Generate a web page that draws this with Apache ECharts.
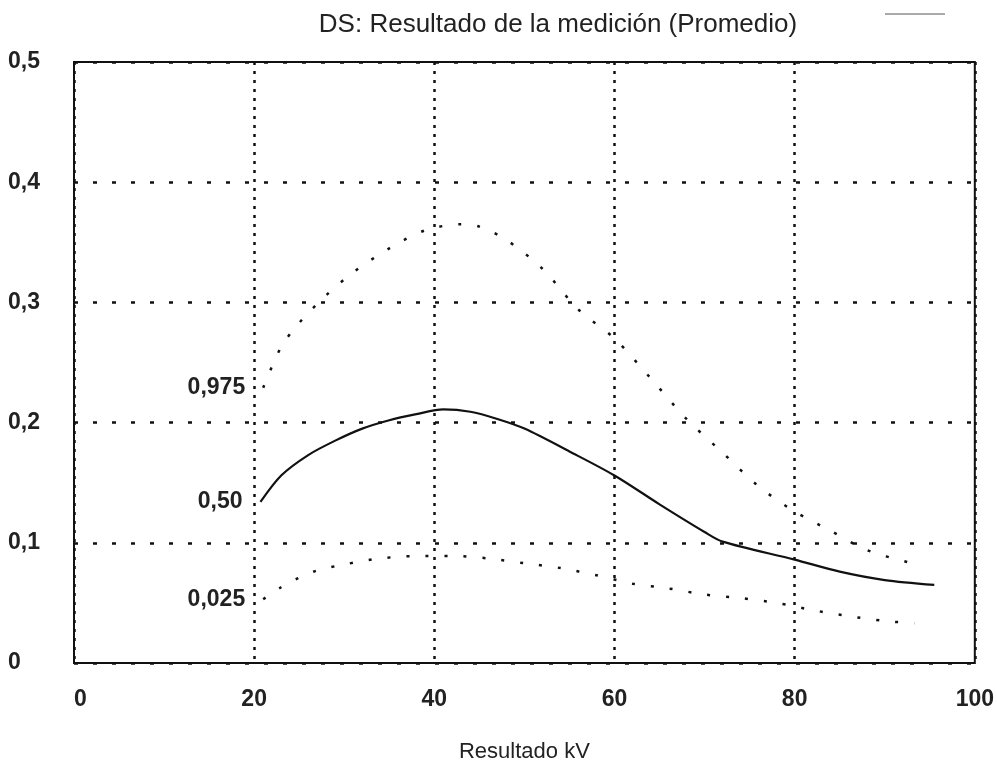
<!DOCTYPE html>
<html>
<head>
<meta charset="utf-8">
<script src="https://cdn.jsdelivr.net/npm/echarts@6/dist/echarts.min.js"></script>
<style>html,body{margin:0;padding:0;background:#fff}#c{width:997px;height:768px}</style>
</head>
<body>
<div id="c"></div>
<script>
var titleText = 'DS: Resultado de la medición (Promedio)';
var xAxisName = 'Resultado kV';
var yTickLabels = ['0', '0,1', '0,2', '0,3', '0,4', '0,5'];
var seriesNames = ['0,975', '0,50', '0,025'];

var upperX = [21, 23, 25, 28, 31, 35, 39, 43, 45, 48, 52, 56, 60, 64, 68, 72, 76, 80, 84, 88, 93];
var upperY = [0.229, 0.263, 0.283, 0.306, 0.325, 0.345, 0.360, 0.365, 0.363, 0.352, 0.328, 0.294, 0.270, 0.237, 0.203, 0.175, 0.147, 0.126, 0.110, 0.094, 0.083];

var medianX = [20.7, 23, 26, 29, 32, 35, 38, 41, 44, 47, 50, 55, 60, 65, 70, 72, 80, 85, 90, 95.5];
var medianY = [0.134, 0.156, 0.173, 0.185, 0.195, 0.202, 0.207, 0.211, 0.209, 0.203, 0.195, 0.176, 0.156, 0.132, 0.109, 0.101, 0.086, 0.076, 0.069, 0.065];

var lowerX = [21, 23, 25, 27, 30, 34, 38, 42, 46, 50, 54, 58, 62, 66, 70, 74, 78, 82, 86, 90, 93.3];
var lowerY = [0.053, 0.063, 0.071, 0.077, 0.082, 0.087, 0.089, 0.089, 0.087, 0.083, 0.079, 0.073, 0.066, 0.062, 0.057, 0.054, 0.050, 0.044, 0.039, 0.035, 0.033];

var FONT = '"Liberation Sans", Arial, sans-serif';

function build(xs, ys, name) {
  return xs.map(function (x, i) {
    var item = { value: [x, ys[i]] };
    if (i === 0) {
      item.label = {
        show: true, position: 'left', distance: 18, formatter: name,
        fontFamily: FONT, fontWeight: 'bold', fontSize: 23, color: '#222'
      };
    }
    return item;
  });
}

var chart = echarts.init(document.getElementById('c'));
chart.setOption({
  backgroundColor: '#fff',
  animation: false,
  title: {
    text: titleText, left: 553, top: 7, textAlign: 'center',
    textStyle: { fontFamily: FONT, fontWeight: 'normal', fontSize: 26, color: '#222' }
  },
  graphic: [{
    type: 'line', shape: { x1: 885, y1: 14, x2: 945, y2: 14 },
    style: { stroke: '#555', lineWidth: 1 }
  }],
  grid: {
    left: 74, right: 22, top: 62, bottom: 102,
    show: true, borderColor: '#111', borderWidth: 2, backgroundColor: 'transparent'
  },
  xAxis: {
    type: 'value', min: 0, max: 100, interval: 20,
    name: xAxisName, nameLocation: 'middle', nameGap: 78,
    nameTextStyle: { fontFamily: FONT, fontSize: 22, color: '#222' },
    axisLine: { show: false }, axisTick: { show: false },
    axisLabel: { margin: 25, fontFamily: FONT, fontWeight: 'bold', fontSize: 23, color: '#222', alignMinLabel: 'left' },
    splitLine: { show: true, lineStyle: { color: '#111', width: 2.5, type: [3, 6] } }
  },
  yAxis: {
    type: 'value', min: 0, max: 0.5, interval: 0.1,
    axisLine: { show: false }, axisTick: { show: false },
    axisLabel: {
      margin: 66, align: 'left', fontFamily: FONT, fontWeight: 'bold', fontSize: 23, color: '#222',
      formatter: function (v) { return yTickLabels[Math.round(v * 10)]; }
    },
    splitLine: { show: true, lineStyle: { color: '#111', width: 2.5, type: [4, 15] } }
  },
  series: [
    {
      name: seriesNames[0], type: 'line', smooth: 0.3, data: build(upperX, upperY, seriesNames[0]),
      symbol: 'circle', symbolSize: 0, showSymbol: true,
      lineStyle: { color: '#111', width: 2.5, type: [3, 16] }
    },
    {
      name: seriesNames[1], type: 'line', smooth: 0.3, data: build(medianX, medianY, seriesNames[1]),
      symbol: 'circle', symbolSize: 0, showSymbol: true,
      lineStyle: { color: '#111', width: 2.2, type: 'solid' }
    },
    {
      name: seriesNames[2], type: 'line', smooth: 0.3, data: build(lowerX, lowerY, seriesNames[2]),
      symbol: 'circle', symbolSize: 0, showSymbol: true,
      lineStyle: { color: '#111', width: 2.5, type: [3, 16] }
    }
  ]
});
</script>
</body>
</html>
